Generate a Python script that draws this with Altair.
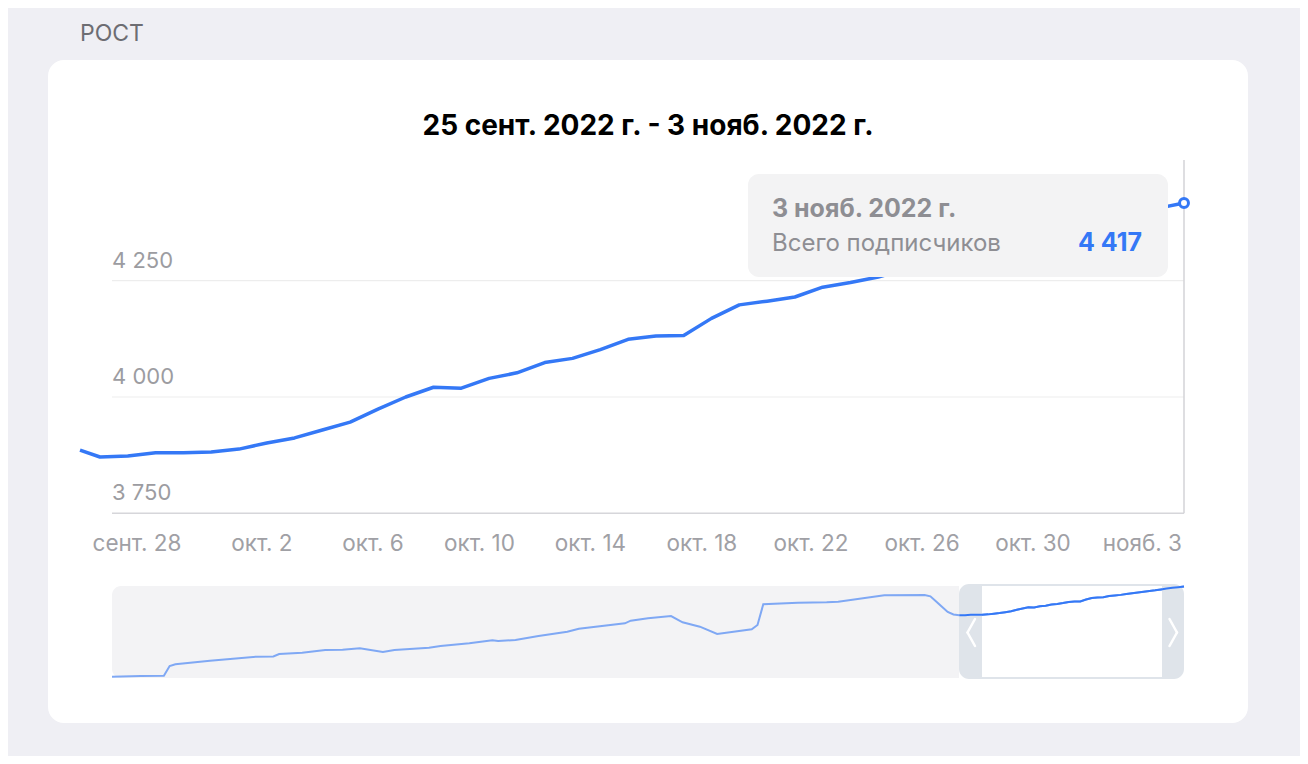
import altair as alt
import pandas as pd

# ---------------- data ----------------
# selected window (main chart), daily values
main_start = "2022-09-24"
main_end = "2022-11-03"
main_values = [3886, 3871, 3873, 3880, 3880, 3882, 3888, 3901, 3912, 3929,
               3946, 3974, 4000, 4021, 4019, 4040, 4052, 4074, 4083, 4102,
               4124, 4131, 4132, 4169, 4198, 4206, 4215, 4236, 4246, 4258,
               4275, 4290, 4303, 4318, 4332, 4345, 4362, 4378, 4392, 4405,
               4417]
main_dates = [d.strftime("%Y-%m-%d") for d in pd.date_range(main_start, main_end, freq="D")]

# navigator history before the window
hist_dates = ["2022-05-01", "2022-05-06", "2022-05-10", "2022-05-11", "2022-05-12",
              "2022-05-18", "2022-05-26", "2022-05-29", "2022-05-30", "2022-06-03",
              "2022-06-07", "2022-06-10", "2022-06-13", "2022-06-17", "2022-06-19",
              "2022-06-25", "2022-06-27", "2022-07-02", "2022-07-06", "2022-07-07",
              "2022-07-10", "2022-07-14", "2022-07-19", "2022-07-21", "2022-07-29",
              "2022-07-30", "2022-08-02", "2022-08-06", "2022-08-08", "2022-08-11",
              "2022-08-14", "2022-08-20", "2022-08-21", "2022-08-22", "2022-08-28",
              "2022-09-02", "2022-09-04", "2022-09-12", "2022-09-19", "2022-09-20",
              "2022-09-21", "2022-09-22", "2022-09-23"]
hist_values = [2705, 2718, 2724, 2908, 2940,
               3009, 3085, 3088, 3136, 3160,
               3212, 3217, 3244, 3174, 3212,
               3255, 3288, 3339, 3396, 3383,
               3402, 3477, 3559, 3616, 3718,
               3768, 3813, 3857, 3737, 3654,
               3515, 3605, 3686, 4079, 4110,
               4117, 4128, 4250, 4256, 4230,
               4132, 4034, 3933]

# axis ticks
y_ticks = [3750, 4000, 4250]
y_tick_labels = ["3 750", "4 000", "4 250"]
x_ticks = ["2022-09-28", "2022-10-02", "2022-10-06", "2022-10-10", "2022-10-14",
           "2022-10-18", "2022-10-22", "2022-10-26", "2022-10-30", "2022-11-03"]
x_tick_labels = ["сент. 28", "окт. 2", "окт. 6", "окт. 10", "окт. 14",
                 "окт. 18", "окт. 22", "окт. 26", "окт. 30", "нояб. 3"]

section_title = "РОСТ"
chart_title = "25 сент. 2022 г. - 3 нояб. 2022 г."
tip_date = "3 нояб. 2022 г."
tip_label = "Всего подписчиков"
tip_value = "4 417"

# ---------------- tables ----------------
main_df = pd.DataFrame({"date": main_dates, "value": main_values})
last_df = main_df.tail(1)
nav_df = pd.DataFrame({"date": hist_dates + main_dates, "value": hist_values + main_values})
win_df = main_df.iloc[1:]
ytick_df = pd.DataFrame({"value": y_ticks, "label": y_tick_labels})
grid_df = ytick_df[ytick_df["value"] > y_ticks[0]]
base_df = ytick_df[ytick_df["value"] == y_ticks[0]]
xtick_df = pd.DataFrame({"date": x_ticks, "label": x_tick_labels})
one = pd.DataFrame({"a": [0]})

FONT = "Inter"
BLUE = "#3478f6"


def utc(y, m, d, h=0, mi=0):
    return alt.DateTime(year=y, month=m, date=d, hours=h, minutes=mi, utc=True)


main_x = alt.Scale(domain=[utc(2022, 9, 24, 6, 44), utc(2022, 11, 3)], range=[72, 1176], clamp=True, nice=False)
main_y = alt.Scale(domain=[3750, 4250], range=[505.3, 272.7], nice=False, zero=False)
nav_x = alt.Scale(domain=[utc(2022, 5, 1), utc(2022, 11, 3)], range=[104, 1176], nice=False)
nav_y = alt.Scale(domain=[2705, 4417], range=[668.7, 578.5], nice=False, zero=False)

MX = alt.X("date:T", scale=main_x, axis=None)
MY = alt.Y("value:Q", scale=main_y, axis=None)
NX = alt.X("date:T", scale=nav_x, axis=None)
NY = alt.Y("value:Q", scale=nav_y, axis=None)


def box(x, x2, y, y2, **kw):
    return alt.Chart(one).mark_rect(**kw).encode(
        x=alt.value(x), x2=alt.value(x2), y=alt.value(y), y2=alt.value(y2))


def seg(x, y, x2, y2, **kw):
    return alt.Chart(one).mark_rule(**kw).encode(
        x=alt.value(x), x2=alt.value(x2), y=alt.value(y), y2=alt.value(y2))


def label(txt, x, y, **kw):
    return alt.Chart(one).mark_text(text=txt, font=FONT, **kw).encode(
        x=alt.value(x), y=alt.value(y))


layers = []
# card
layers.append(box(40, 1240, 52, 715, color="white", cornerRadius=16))
# section + chart titles
layers.append(label(section_title, 72, 33, align="left", baseline="alphabetic",
                    fontSize=23, color="#6d6d72"))
layers.append(label(chart_title, 640, 127, align="center", baseline="alphabetic",
                    fontSize=28, fontWeight="bold", color="#000000"))

# grid lines
layers.append(alt.Chart(grid_df).mark_rule(color="#ededed", strokeWidth=1.2).encode(
    y=alt.Y("value:Q", scale=main_y, axis=None), x=alt.value(104), x2=alt.value(1176)))
layers.append(alt.Chart(base_df).mark_rule(color="#d6d6da", strokeWidth=1.5).encode(
    y=alt.Y("value:Q", scale=main_y, axis=None), x=alt.value(104), x2=alt.value(1176)))
# y tick labels
layers.append(alt.Chart(ytick_df).mark_text(font=FONT, fontSize=22, color="#9c9ca1",
                                            align="left", baseline="alphabetic", dy=-13).encode(
    y=alt.Y("value:Q", scale=main_y, axis=None), x=alt.value(104), text="label:N"))
# x tick labels
layers.append(alt.Chart(xtick_df).mark_text(font=FONT, fontSize=22.5, color="#a0a0a5",
                                            align="right", baseline="alphabetic", dx=-2).encode(
    x=alt.X("date:T", scale=main_x, axis=None), y=alt.value(543), text="label:N"))
# selection rule
layers.append(alt.Chart(last_df).mark_rule(color="#d3d3d7", strokeWidth=1.5).encode(
    x=MX, y=alt.value(152), y2=alt.value(505.3)))
# main line
layers.append(alt.Chart(main_df).mark_line(color=BLUE, strokeWidth=3.5, strokeJoin="round").encode(
    x=MX, y=MY))
# tooltip
layers.append(box(740, 1160, 166, 269, color="#f3f3f4", cornerRadius=11))
layers.append(label(tip_date, 764, 209, align="left", baseline="alphabetic",
                    fontSize=25, fontWeight="bold", color="#8e8e93"))
layers.append(label(tip_label, 764, 243, align="left", baseline="alphabetic",
                    fontSize=24, color="#8e8e93"))
layers.append(label(tip_value, 1134, 243, align="right", baseline="alphabetic",
                    fontSize=25, fontWeight="bold", color=BLUE))
# highlighted point
layers.append(alt.Chart(last_df).mark_point(filled=True, fill="white", stroke=BLUE,
                                            strokeWidth=3, size=80, opacity=1).encode(x=MX, y=MY))

# navigator
layers.append(box(104, 1176, 578, 670, color="#f3f3f5", cornerRadius=9))
layers.append(box(951, 1176, 578, 670, color="white"))
layers.append(alt.Chart(nav_df).mark_line(color="#7fa8f4", strokeWidth=2).encode(x=NX, y=NY))
HANDLE = "#dfe4ea"
layers.append(box(951, 974, 576, 671, color=HANDLE, cornerRadiusTopLeft=10, cornerRadiusBottomLeft=10))
layers.append(box(1154, 1176, 576, 671, color=HANDLE, cornerRadiusTopRight=10, cornerRadiusBottomRight=10))
layers.append(box(973, 1155, 576, 578, color=HANDLE))
layers.append(box(973, 1155, 669, 671, color=HANDLE))
layers.append(alt.Chart(nav_df).mark_line(color="#7fa8f4", strokeWidth=2, opacity=0.9).encode(
    x=NX, y=NY).transform_filter("datum.date < '2022-09-26'"))
layers.append(alt.Chart(win_df).mark_line(color=BLUE, strokeWidth=2).encode(x=NX, y=NY))
# chevrons
for (xa, xb) in [(967, 959.5), (1161.5, 1169)]:
    layers.append(seg(xa, 611, xb, 624.5, color="white", strokeWidth=2.5, strokeCap="round"))
    layers.append(seg(xb, 624.5, xa, 638, color="white", strokeWidth=2.5, strokeCap="round"))

chart = alt.layer(*layers).resolve_scale(x="independent", y="independent").properties(
    width=1292, height=748, autosize=alt.AutoSizeParams(type="none"), padding=0
).configure(background="#efeff4").configure_view(stroke=None)

chart.save("out.html", embed_options={"renderer": "svg", "actions": False})
